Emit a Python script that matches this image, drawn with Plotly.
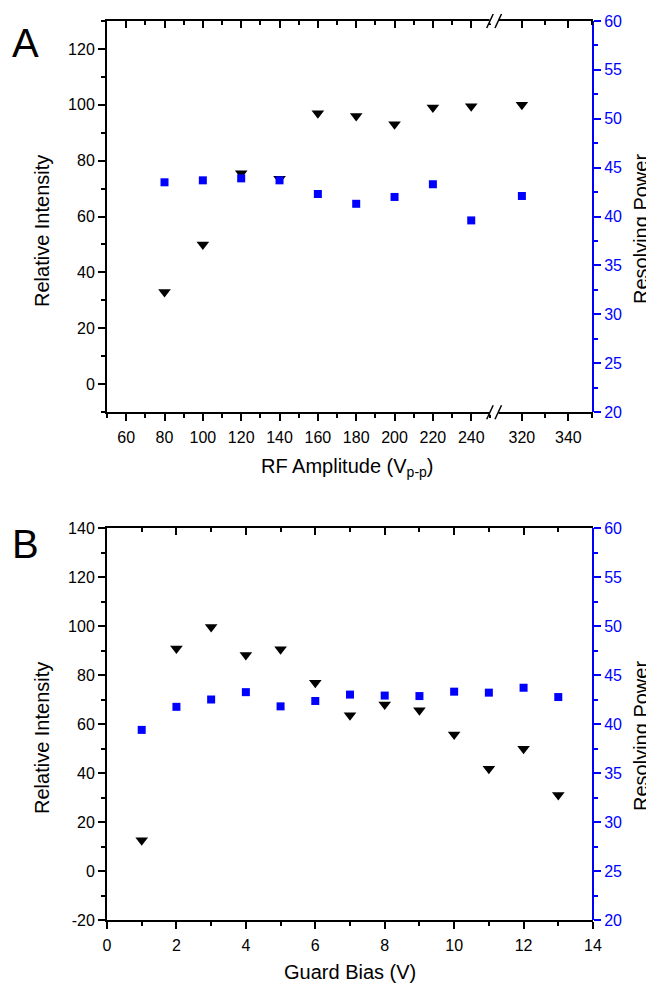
import plotly.graph_objects as go

# ---- data ----
rf_amp = [80, 100, 120, 140, 160, 180, 200, 220, 240, 320]
rf_intensity = [33, 50, 75.5, 73.5, 97, 96, 93, 99, 99.5, 100]
rf_resolving = [43.5, 43.7, 43.9, 43.7, 42.3, 41.3, 42.0, 43.3, 39.6, 42.1]

guard_bias = [1, 2, 3, 4, 5, 6, 7, 8, 9, 10, 11, 12, 13]
gb_intensity = [12.6, 90.8, 99.6, 88.2, 90.5, 76.8, 63.6, 68, 65.6, 55.7, 41.7, 49.9, 31]
gb_resolving = [39.4, 41.75, 42.5, 43.25, 41.8, 42.35, 43.0, 42.9, 42.85, 43.3, 43.2, 43.7, 42.75]

rf_ticks_low = [60, 80, 100, 120, 140, 160, 180, 200, 220, 240]
rf_ticks_high = [320, 340]
int_ticks_a = [0, 20, 40, 60, 80, 100, 120]
int_ticks_b = [-20, 0, 20, 40, 60, 80, 100, 120, 140]
res_ticks = [20, 25, 30, 35, 40, 45, 50, 55, 60]
gb_ticks = [0, 2, 4, 6, 8, 10, 12, 14]

RF_BREAK = 250  # points above this sit on the right-hand segment

INK = "black"
BLUE = "#0000ff"
FONT = "Liberation Sans, Arial, sans-serif"
LW = 2

# the page body adds an 8px margin, so the figure is drawn 8px in from the corner
OFF = 8
W, H = 654 - OFF, 984 - OFF
L, R, T, B = 107 - OFF, 654 - 593, 21 - OFF, 984 - 920
PW, PH = W - L - R, H - T - B
BREAK_PX = 494


# screen px -> paper coords
def px_x(x):
    return (x - OFF - L) / PW


def px_y(y):
    return (H - B - (y - OFF)) / PH


split = px_x(BREAK_PX)
dom_a = [px_y(412), 1.0]
dom_b = [0.0, px_y(528)]


def axis(tickvals, minor_vals, color=INK, ticks="outside", labels=True, **kw):
    d = dict(
        showline=True, linecolor=color, linewidth=LW,
        ticks=ticks, tickcolor=color, tickwidth=LW, ticklen=7,
        tickmode="array", tickvals=tickvals,
        ticktext=[str(v) for v in tickvals],
        showticklabels=labels,
        tickfont=dict(family=FONT, size=16, color=color),
        minor=dict(ticks=ticks, tickmode="array", tickvals=minor_vals,
                   ticklen=4, tickwidth=LW, tickcolor=color, showgrid=False),
        showgrid=False, zeroline=False, fixedrange=True,
    )
    d.update(kw)
    return d


tri = dict(symbol="triangle-down", size=11, color=INK)
sq = dict(symbol="square", size=8, color=BLUE)

lo = [i for i, v in enumerate(rf_amp) if v <= RF_BREAK]
hi = [i for i, v in enumerate(rf_amp) if v > RF_BREAK]

fig = go.Figure()
# panel A, left segment / right segment
fig.add_trace(go.Scatter(x=[rf_amp[i] for i in lo], y=[rf_intensity[i] for i in lo],
                         mode="markers", marker=tri, xaxis="x", yaxis="y"))
fig.add_trace(go.Scatter(x=[rf_amp[i] for i in hi], y=[rf_intensity[i] for i in hi],
                         mode="markers", marker=tri, xaxis="x2", yaxis="y"))
fig.add_trace(go.Scatter(x=[rf_amp[i] for i in lo], y=[rf_resolving[i] for i in lo],
                         mode="markers", marker=sq, xaxis="x", yaxis="y2"))
fig.add_trace(go.Scatter(x=[rf_amp[i] for i in hi], y=[rf_resolving[i] for i in hi],
                         mode="markers", marker=sq, xaxis="x2", yaxis="y2"))
# panel B
fig.add_trace(go.Scatter(x=guard_bias, y=gb_intensity, mode="markers", marker=tri,
                         xaxis="x5", yaxis="y3"))
fig.add_trace(go.Scatter(x=guard_bias, y=gb_resolving, mode="markers", marker=sq,
                         xaxis="x5", yaxis="y4"))

rf_range_lo = [50, 50 + (BREAK_PX - 107) / 1.917]
rf_range_hi = [308, 350.6]
minor_lo = list(range(50, 260, 10))
minor_hi = [330, 350]
minor_res = [22.5 + 5 * k for k in range(8)]

# top frame edges: separate axes with inward ticks (transparent plot bg so
# the stacked subplots don't hide the markers)
fig.update_layout(
    width=W, height=H,
    margin=dict(l=L, r=R, t=T, b=B, autoexpand=False),
    paper_bgcolor="white", plot_bgcolor="rgba(0,0,0,0)",
    showlegend=False,
    font=dict(family=FONT, color=INK),
    xaxis=axis(rf_ticks_low, minor_lo, domain=[0, split], range=rf_range_lo, anchor="y",
               ticklabelstandoff=3),
    xaxis2=axis(rf_ticks_high, minor_hi, domain=[split, 1], range=rf_range_hi, anchor="y",
                ticklabelstandoff=3),
    xaxis3=axis(rf_ticks_low, minor_lo, ticks="inside", labels=False, side="top",
                domain=[0, split], range=rf_range_lo, anchor="y"),
    xaxis4=axis(rf_ticks_high, minor_hi, ticks="inside", labels=False, side="top",
                domain=[split, 1], range=rf_range_hi, anchor="y"),
    yaxis=axis(int_ticks_a, list(range(-10, 131, 10)), domain=dom_a, range=[-10, 130], anchor="x"),
    yaxis2=axis(res_ticks, minor_res, color=BLUE, side="right",
                overlaying="y", range=[20, 60], anchor="free", position=1),
    xaxis5=axis(gb_ticks, list(range(0, 15)), domain=[0, 1], range=[0, 14], anchor="y3",
                ticklabelstandoff=3),
    xaxis6=axis(gb_ticks, list(range(0, 15)), ticks="inside", labels=False, side="top",
                domain=[0, 1], range=[0, 14], anchor="y3"),
    yaxis3=axis(int_ticks_b, list(range(-20, 141, 10)), domain=dom_b, range=[-20, 140], anchor="x5"),
    yaxis4=axis(res_ticks, minor_res, color=BLUE, side="right",
                overlaying="y3", range=[20, 60], anchor="free", position=1),
)
# empty traces so the top-edge axes get their own subplots
for xa, ya in (("x3", "y"), ("x4", "y"), ("x6", "y3")):
    fig.add_trace(go.Scatter(x=[], y=[], xaxis=xa, yaxis=ya, hoverinfo="skip"))


def ann(text, x, y, size=20, angle=0, color=INK):
    fig.add_annotation(text=text, x=x, y=y, xref="paper", yref="paper",
                       showarrow=False, textangle=angle,
                       font=dict(family=FONT, size=size, color=color),
                       xanchor="center", yanchor="middle")


ann("A", px_x(25), px_y(43), size=40)
ann("B", px_x(25), px_y(544), size=40)
ann("RF Amplitude (V<sub>p-p</sub>)", px_x(347), px_y(467))
ann("Guard Bias (V)", px_x(350), px_y(972))
ann("Relative Intensity", px_x(42), px_y(231), angle=-90)
ann("Resolving Power", px_x(641), px_y(229), angle=-90)
ann("Relative Intensity", px_x(42), px_y(738), angle=-90)
ann("Resolving Power", px_x(641), px_y(736), angle=-90)

# axis-break marks on the top and bottom lines of panel A
for ly in (412.3, 21):
    fig.add_shape(type="rect", xref="paper", yref="paper",
                  x0=px_x(489.5), x1=px_x(498.5), y0=px_y(ly + 2.5), y1=px_y(ly - 2.5),
                  fillcolor="white", line=dict(width=0), layer="above")
    for x0 in (486.7, 495):
        fig.add_shape(type="line", xref="paper", yref="paper",
                      x0=px_x(x0), y0=px_y(ly + 7), x1=px_x(x0 + 6.5), y1=px_y(ly - 7),
                      line=dict(color=INK, width=1.5), layer="above")

fig.write_html("out.html")
